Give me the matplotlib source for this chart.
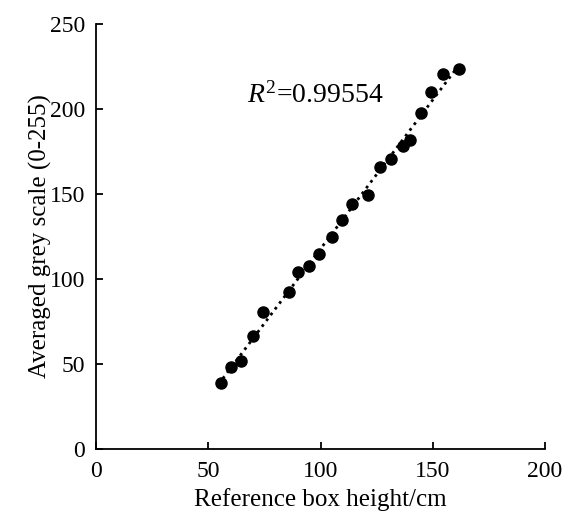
import numpy as np
import matplotlib.pyplot as plt

# reference box heights (cm) and averaged grey scale
box_height = [55.5, 60.0, 64.5, 70.1, 74.5, 86.0, 89.8, 94.9, 99.5, 105.1,
              109.7, 114.2, 121.3, 126.5, 131.4, 136.9, 139.6, 144.8, 149.2,
              154.4, 161.6]
grey_scale = [38.8, 47.8, 51.6, 66.5, 80.4, 92.2, 104.2, 107.7, 114.6, 124.5,
              134.6, 144.0, 149.4, 166.1, 170.6, 178.3, 181.8, 197.9, 209.9,
              220.7, 223.5]
x_ticks = [0, 50, 100, 150, 200]
y_ticks = [0, 50, 100, 150, 200, 250]
r2_text = "0.99554"

plt.rcParams['font.family'] = ['Liberation Serif', 'DejaVu Serif']
plt.rcParams['mathtext.fontset'] = 'custom'
plt.rcParams['mathtext.rm'] = 'Liberation Serif'
plt.rcParams['mathtext.it'] = 'Liberation Serif:italic'

x = np.array(box_height)
y = np.array(grey_scale)

fig = plt.figure(figsize=(5.72, 5.14), dpi=100)
ax = fig.add_axes([0.168, 0.1274, 0.785, 0.8253])

# linear trend line
k, b = np.polyfit(x, y, 1)
xf = np.array([x.min() - 1, x.max()])
ax.plot(xf, k * xf + b, color='black', linestyle=(0, (1, 1.6)), linewidth=2.0)
ax.scatter(x, y, s=64, color='black', zorder=3, clip_on=False)

ax.text(67, 208, r"$R^2$=" + r2_text, fontsize=20, va='center', ha='left')

ax.set_xlim(0, 200)
ax.set_ylim(0, 250)
ax.set_xticks(x_ticks)
ax.set_yticks(y_ticks)
ax.spines['top'].set_visible(False)
ax.spines['right'].set_visible(False)
for s in ['left', 'bottom']:
    ax.spines[s].set_linewidth(1.3)
ax.tick_params(direction='in', length=5, width=1.3, labelsize=17)
ax.tick_params(axis='x', pad=9)
ax.tick_params(axis='y', pad=8)

ax.set_xlabel("Reference box height/cm", fontsize=18, labelpad=4)
ax.set_ylabel("Averaged grey scale (0-255)", fontsize=18, labelpad=-2)

fig.savefig("out.png", dpi=100)
